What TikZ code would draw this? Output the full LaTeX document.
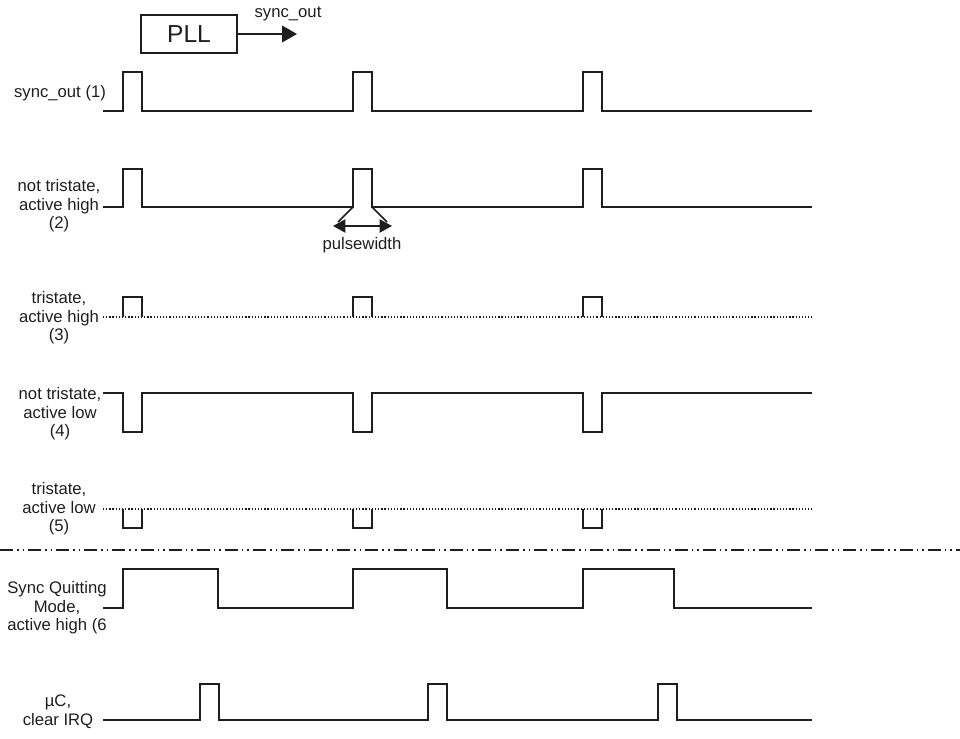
\documentclass[tikz,border=0pt]{standalone}
\usepackage{fontspec}
\setmainfont{Liberation Sans}
\usepackage{xcolor}
\usetikzlibrary{
  arrows.meta,
  positioning
}
\definecolor{sigline}{RGB}{30,30,30}

\begin{document}
\begin{tikzpicture}[
  x=0.02cm, y=-0.02cm,
  wave/.style={draw=sigline, line width=0.85pt},
  tribase/.style={draw=sigline, line width=0.7pt, dash pattern=on 0.7pt off 1.1pt},
  sepline/.style={draw=sigline, line width=0.85pt, dash pattern=on 7.4pt off 2.3pt on 0.85pt off 2.3pt on 0.85pt off 2.3pt},
  lbl/.style={align=center, inner sep=0pt, font=\fontsize{9.5}{10.6}\selectfont},
  every node/.style={text=sigline}
]
  \useasboundingbox (0,0) rectangle (960,739);

  \node[draw=sigline, line width=0.85pt, minimum width=1.92cm, minimum height=0.76cm,
        font=\fontsize{14}{16}\selectfont] (pll) at (189,34) {PLL};
  \coordinate (pllout) at (297,34);
  \draw[wave, -{Triangle[length=8.5pt, width=9.5pt]}] (pll) -- (pllout);
  \node[lbl] (synclbl) at (288,14) {sync\_out};

  \node[lbl] (lblA) at (60,93) {sync\_out (1)};
  \node[lbl] (lblB) at (59,206) {not tristate,\\active high\\(2)};
  \node[lbl] (lblC) at (59,318) {tristate,\\active high\\(3)};
  \node[lbl] (lblD) at (60,414) {not tristate,\\active low\\(4)};
  \node[lbl] (lblE) at (59,509) {tristate,\\active low\\(5)};
  \node[lbl] (lblF) at (57,608) {Sync Quitting\\Mode,\\active high (6};
  \node[lbl] (lblG) at (58,712) {µC,\\clear IRQ};

  \draw[wave] (103,111) \foreach \x in {123,353,583} {
    -- (\x,111) -- (\x,72) -- (\x+19,72) -- (\x+19,111) } -- (812,111);

  \draw[wave] (103,207) \foreach \x in {123,353,583} {
    -- (\x,207) -- (\x,169) -- (\x+19,169) -- (\x+19,207) } -- (812,207);

  \coordinate (pwl) at (333,226);
  \coordinate (pwr) at (392,226);
  \draw[wave] (353,207) -- (338,222);
  \draw[wave] (372,207) -- (387,222);
  \draw[wave, {Triangle[length=7pt, width=7.5pt]}-{Triangle[length=7pt, width=7.5pt]}] (pwl) -- (pwr);
  \node[lbl] (pwlbl) at (362,245) {pulsewidth};

  \draw[tribase] (103,317) -- (812,317);
  \foreach \x in {123,353,583}
    \draw[wave, line width=0.7pt] (\x,317) -- (\x,297) -- (\x+19,297) -- (\x+19,317);

  \draw[wave] (103,393) \foreach \x in {123,353,583} {
    -- (\x,393) -- (\x,432) -- (\x+19,432) -- (\x+19,393) } -- (812,393);

  \draw[tribase] (103,509) -- (812,509);
  \foreach \x in {123,353,583}
    \draw[wave, line width=0.7pt] (\x,509) -- (\x,528) -- (\x+19,528) -- (\x+19,509);

  \draw[sepline] (0,550) -- (960,550);

  \draw[wave] (103,608) \foreach \a/\b in {123/218,353/447,583/674} {
    -- (\a,608) -- (\a,569) -- (\b,569) -- (\b,608) } -- (812,608);

  \draw[wave] (103,720) \foreach \a/\b in {200/219,428/447,658/677} {
    -- (\a,720) -- (\a,684) -- (\b,684) -- (\b,720) } -- (812,720);
\end{tikzpicture}
\end{document}
